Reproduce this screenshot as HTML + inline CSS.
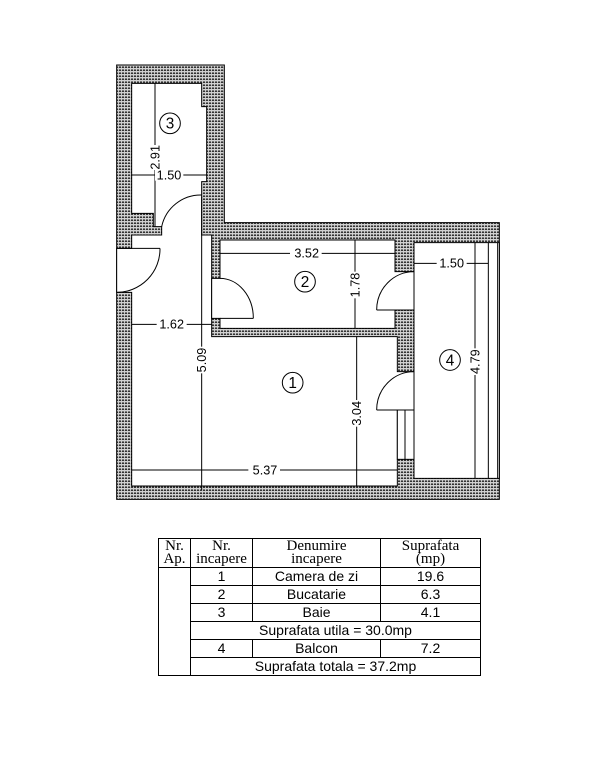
<!DOCTYPE html>
<html><head><style>
html,body{margin:0;padding:0;background:#fff;width:603px;height:768px;overflow:hidden;position:relative}
svg{position:absolute;left:110px;top:60px}
table{position:absolute;left:158px;top:538px;border-collapse:collapse;font-family:"Liberation Sans",sans-serif;font-size:14px}
td{border:1px solid #000;text-align:center;padding:0;height:17px;line-height:15px}
.h td{font-family:"Liberation Serif",serif;font-size:15px;line-height:13px;height:28px}
</style></head><body>
<svg width="400" height="450" viewBox="0 0 1200 1350">
<defs><pattern id="h" width="9" height="9" patternUnits="userSpaceOnUse"><rect width="9" height="9" fill="#fff"/><rect x="0" y="1" width="7" height="5" fill="#333"/><rect x="0" y="7" width="9" height="1" fill="#777"/></pattern></defs>
<g stroke="#000" stroke-width="3" fill="none">
<polygon points="20,15 343,15 343,488 1168,488 1168,1318 20,1318" fill="url(#h)"/>
<polygon points="65,70 275,70 275,140 290,140 290,365 275,365 275,525 305,525 305,830 862,830 862,935 912,935 912,1050 862,1050 862,1278 65,1278 65,697 20,697 20,565 65,565 65,525 155,525 155,500 130,500 130,460 65,460" fill="#fff"/>
<polygon points="330,540 855,540 855,635 912,635 912,750 855,750 855,805 330,805 330,775 305,775 305,655 330,655" fill="#fff"/>
<polygon points="912,548 1168,548 1168,1255 912,1255" fill="#fff"/>
<rect x="862" y="1050" width="50" height="148" fill="#fff"/>
<line x1="885" y1="1050" x2="885" y2="1198"/>
<line x1="1135" y1="548" x2="1135" y2="1255"/><line x1="1163" y1="548" x2="1163" y2="1255"/>
<line x1="20" y1="565" x2="150" y2="565"/><path d="M150,565 A130,130 0 0 1 20,697"/>
<path d="M155,500 A120,120 0 0 1 275,405"/>
<path d="M330,655 A100,120 0 0 1 430,775"/><line x1="330" y1="775" x2="430" y2="775"/>
<path d="M912,635 A112,115 0 0 0 800,750"/><line x1="800" y1="750" x2="855" y2="750"/>
<path d="M912,935 A112,115 0 0 0 800,1050"/><line x1="800" y1="1050" x2="862" y2="1050"/>
<line x1="135" y1="70" x2="135" y2="500"/>
<line x1="65" y1="345" x2="290" y2="345"/>
<line x1="65" y1="793" x2="305" y2="793"/>
<line x1="275" y1="410" x2="275" y2="1290"/>
<line x1="330" y1="580" x2="855" y2="580"/>
<line x1="735" y1="540" x2="735" y2="805"/>
<line x1="740" y1="830" x2="740" y2="1278"/>
<line x1="65" y1="1230" x2="862" y2="1230"/>
<line x1="912" y1="610" x2="1135" y2="610"/>
<line x1="1095" y1="548" x2="1095" y2="1255"/>
<circle cx="180" cy="190" r="31"/><circle cx="585" cy="665" r="31"/><circle cx="548" cy="968" r="31"/><circle cx="1020" cy="900" r="31"/>
</g>
<g font-family="Liberation Sans,sans-serif" font-size="38" text-anchor="middle" fill="#000">
<g fill="#fff" stroke="none">
<rect x="118" y="255" width="34" height="75"/><rect x="135" y="328" width="85" height="34"/><rect x="140" y="776" width="90" height="34"/>
<rect x="258" y="860" width="34" height="80"/><rect x="540" y="563" width="95" height="34"/><rect x="718" y="635" width="34" height="80"/>
<rect x="723" y="1020" width="34" height="80"/><rect x="415" y="1213" width="95" height="34"/><rect x="980" y="593" width="90" height="34"/><rect x="1078" y="865" width="34" height="80"/>
</g>
<g font-size="46"><text x="180" y="206">3</text><text x="585" y="681">2</text><text x="548" y="984">1</text><text x="1020" y="916">4</text></g>
<text x="177" y="358">1.50</text><text x="185" y="806">1.62</text><text x="590" y="593">3.52</text><text x="465" y="1243">5.37</text><text x="1025" y="623">1.50</text>
<text transform="translate(148,292) rotate(-90)">2.91</text>
<text transform="translate(288,900) rotate(-90)">5.09</text>
<text transform="translate(748,675) rotate(-90)">1.78</text>
<text transform="translate(753,1060) rotate(-90)">3.04</text>
<text transform="translate(1108,905) rotate(-90)">4.79</text>
</g>
</svg>
<table>
<tr class="h"><td style="width:31px">Nr.<br>Ap.</td><td style="width:61px">Nr.<br>incapere</td><td style="width:127px">Denumire<br>incapere</td><td style="width:99px">Suprafata<br>(mp)</td></tr>
<tr><td rowspan="6"></td><td>1</td><td>Camera de zi</td><td>19.6</td></tr>
<tr><td>2</td><td>Bucatarie</td><td>6.3</td></tr>
<tr><td>3</td><td>Baie</td><td>4.1</td></tr>
<tr><td colspan="3">Suprafata utila = 30.0mp</td></tr>
<tr><td>4</td><td>Balcon</td><td>7.2</td></tr>
<tr><td colspan="3">Suprafata totala = 37.2mp</td></tr>
</table>
</body></html>
